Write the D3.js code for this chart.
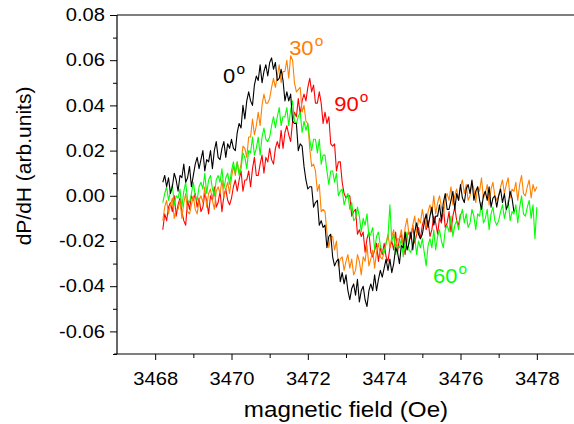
<!DOCTYPE html>
<html>
<head>
<meta charset="utf-8">
<script src="https://cdn.jsdelivr.net/npm/d3@7/dist/d3.min.js"></script>
<style>
  html, body { margin: 0; padding: 0; background: #fff; }
  svg { display: block; font-family: "Liberation Sans", Arial, sans-serif; }
</style>
</head>
<body>
<svg id="chart" width="574" height="424"></svg>
<script>
// Field sweep (Oe): every trace is sampled on the same 0.05 Oe grid
const fieldStart = 3468.2;
const fieldStep = 0.05;

// dP/dH (arb. units) for each angle
const values0 = [
  0.006, 0.009, 0.004, 0.008, 0.001, 0.004, 0.010, 0.007, 0.002, 0.009, 0.008, 0.014, 0.006, 0.008, 0.013, 0.004,
  0.009, 0.014, 0.017, 0.012, 0.016, 0.020, 0.011, 0.016, 0.015, 0.020, 0.012, 0.020, 0.024, 0.017, 0.016, 0.021, 0.024, 0.017, 0.023, 0.021,
  0.025, 0.021, 0.020, 0.028, 0.032, 0.030, 0.040, 0.034, 0.042, 0.046, 0.042, 0.040, 0.049, 0.053, 0.051, 0.058, 0.050, 0.055, 0.058, 0.053,
  0.059, 0.061, 0.056, 0.059, 0.051, 0.052, 0.056, 0.051, 0.042, 0.046, 0.042, 0.045, 0.033, 0.032, 0.032, 0.020, 0.023, 0.022, 0.013, 0.007,
  0.003, 0.004, 0.004, -0.005, -0.003, -0.002, -0.013, -0.011, -0.014, -0.013, -0.023, -0.018, -0.017, -0.027, -0.031, -0.029, -0.028, -0.038, -0.034, -0.039,
  -0.035, -0.042, -0.046, -0.041, -0.039, -0.044, -0.037, -0.047, -0.042, -0.040, -0.046, -0.049, -0.042, -0.039, -0.042, -0.035, -0.042, -0.037, -0.033, -0.036,
  -0.032, -0.028, -0.033, -0.028, -0.034, -0.030, -0.023, -0.025, -0.030, -0.022, -0.023, -0.016, -0.024, -0.021, -0.016, -0.024, -0.016, -0.012, -0.017, -0.019,
  -0.017, -0.012, -0.008, -0.014, -0.009, -0.005, -0.013, -0.009, -0.009, -0.004, -0.011, -0.003, 0.001, -0.006, -0.006, -0.002, 0.002, -0.006, 0.001, -0.002,
  0.005, -0.001, -0.003, 0.003, 0.005, 0.001, 0.007, -0.002, 0.002, 0.004, -0.002, -0.006, 0.000, 0.002, -0.002, 0.004, -0.005, -0.001, 0.000, -0.005,
  0.000, 0.003, -0.003, 0.001, -0.006, -0.004, 0.002, -0.001, -0.007
];

const values30 = [
  -0.011, -0.005, -0.002, -0.008, -0.004, -0.001, -0.010, -0.006, -0.006, -0.002, -0.010, -0.003, 0.001, -0.007, -0.008, -0.004,
  0.000, -0.006, -0.008, -0.002, 0.000, -0.003, 0.004, -0.005, 0.001, 0.003, -0.002, -0.006, 0.002, 0.004, 0.001, 0.007, -0.001, 0.003, 0.006, 0.001,
  0.008, 0.013, 0.009, 0.015, 0.010, 0.014, 0.022, 0.021, 0.017, 0.026, 0.026, 0.034, 0.027, 0.031, 0.037, 0.031, 0.040, 0.045, 0.041, 0.041,
  0.043, 0.048, 0.052, 0.048, 0.053, 0.058, 0.050, 0.055, 0.055, 0.060, 0.052, 0.062, 0.060, 0.050, 0.046, 0.047, 0.048, 0.037, 0.040, 0.033,
  0.032, 0.021, 0.013, 0.014, 0.011, 0.002, 0.005, -0.007, -0.006, -0.007, -0.016, -0.023, -0.018, -0.018, -0.024, -0.020, -0.031, -0.028, -0.027, -0.033,
  -0.029, -0.026, -0.032, -0.028, -0.035, -0.033, -0.026, -0.029, -0.035, -0.027, -0.029, -0.022, -0.031, -0.028, -0.024, -0.032, -0.025, -0.021, -0.027, -0.028,
  -0.025, -0.021, -0.017, -0.023, -0.018, -0.015, -0.023, -0.019, -0.019, -0.015, -0.022, -0.014, -0.010, -0.017, -0.018, -0.013, -0.009, -0.017, -0.010, -0.012,
  -0.006, -0.011, -0.014, -0.007, -0.004, -0.008, 0.000, -0.008, -0.003, 0.000, -0.005, -0.009, -0.001, 0.001, -0.002, 0.004, -0.004, 0.000, 0.003, -0.002,
  0.004, 0.007, 0.001, 0.005, -0.002, 0.000, 0.006, 0.003, -0.003, 0.004, 0.002, 0.008, -0.001, 0.001, 0.005, -0.004, 0.003, 0.006, 0.000, -0.002,
  0.000, 0.004, 0.007, 0.001, 0.005, 0.008, -0.001, 0.003, 0.002, 0.006, -0.002, 0.005, 0.009, 0.001, 0.000, 0.004, 0.007, -0.001, 0.005, 0.002,
  0.004
];

const values90 = [
  -0.015, -0.008, -0.011, -0.005, -0.003, -0.007, 0.000, -0.009, -0.004, -0.001, -0.007, -0.011, -0.013, -0.002, -0.006, 0.000,
  -0.002, 0.001, -0.005, -0.001, -0.007, -0.005, 0.001, -0.002, -0.008, 0.000, -0.002, 0.004, -0.005, -0.003, 0.002, -0.007, 0.000, 0.003, -0.002, -0.004,
  -0.001, 0.004, 0.007, 0.002, 0.007, 0.011, 0.002, 0.007, 0.007, 0.011, 0.004, 0.012, 0.017, 0.009, 0.009, 0.014, 0.018, 0.010, 0.017, 0.015,
  0.021, 0.016, 0.014, 0.021, 0.024, 0.021, 0.029, 0.021, 0.028, 0.031, 0.027, 0.024, 0.033, 0.037, 0.035, 0.043, 0.036, 0.042, 0.045, 0.042,
  0.048, 0.052, 0.046, 0.049, 0.041, 0.041, 0.046, 0.041, 0.032, 0.037, 0.032, 0.035, 0.023, 0.022, 0.023, 0.011, 0.015, 0.015, 0.006, 0.001,
  -0.001, 0.000, 0.000, -0.009, -0.007, -0.006, -0.017, -0.015, -0.018, -0.016, -0.025, -0.019, -0.016, -0.025, -0.027, -0.024, -0.021, -0.029, -0.023, -0.026,
  -0.021, -0.027, -0.029, -0.023, -0.020, -0.024, -0.016, -0.025, -0.019, -0.017, -0.022, -0.026, -0.018, -0.016, -0.019, -0.013, -0.021, -0.017, -0.014, -0.019,
  -0.013, -0.010, -0.015, -0.011, -0.018, -0.015, -0.009, -0.012, -0.017, -0.010, -0.012, -0.005, -0.014, -0.012, -0.007, -0.016, -0.009, -0.005, -0.011, -0.013,
  -0.008
];

const values60 = [
  -0.003, 0.001, 0.004, -0.002, 0.002, 0.005, -0.004, 0.000, -0.001, 0.003, -0.005, 0.002, 0.006, -0.002, -0.003, 0.001,
  0.006, 0.000, -0.002, 0.004, 0.006, 0.003, 0.010, 0.001, 0.007, 0.009, 0.003, 0.000, 0.007, 0.009, 0.006, 0.012, 0.003, 0.008, 0.010, 0.005,
  0.011, 0.015, 0.010, 0.015, 0.009, 0.012, 0.019, 0.017, 0.012, 0.020, 0.019, 0.026, 0.018, 0.021, 0.026, 0.018, 0.026, 0.030, 0.025, 0.024,
  0.026, 0.031, 0.035, 0.030, 0.035, 0.039, 0.031, 0.035, 0.035, 0.039, 0.031, 0.038, 0.042, 0.033, 0.032, 0.035, 0.037, 0.028, 0.033, 0.029,
  0.032, 0.025, 0.020, 0.025, 0.025, 0.019, 0.025, 0.014, 0.018, 0.018, 0.011, 0.005, 0.011, 0.011, 0.006, 0.010, 0.000, 0.002, 0.003, -0.004,
  -0.001, 0.001, -0.006, -0.003, -0.011, -0.010, -0.005, -0.009, -0.016, -0.010, -0.013, -0.008, -0.018, -0.017, -0.014, -0.024, -0.018, -0.016, -0.022, -0.025,
  -0.025, -0.021, -0.018, -0.004, -0.020, -0.017, -0.026, -0.022, -0.023, -0.019, -0.027, -0.020, -0.016, -0.024, -0.025, -0.021, -0.018, -0.026, -0.020, -0.023,
  -0.019, -0.025, -0.031, -0.022, -0.019, -0.023, -0.015, -0.024, -0.018, -0.015, -0.020, -0.023, -0.015, -0.013, -0.016, -0.009, -0.018, -0.013, -0.011, -0.015,
  -0.009, -0.006, -0.012, -0.008, -0.014, -0.012, -0.006, -0.009, -0.015, -0.008, -0.009, -0.003, -0.012, -0.010, -0.006, -0.015, -0.008, -0.005, -0.011, -0.013,
  -0.011, -0.007, -0.004, -0.010, -0.006, -0.002, -0.011, -0.007, -0.008, -0.004, -0.012, -0.005, 0.000, -0.008, -0.009, -0.005, -0.002, -0.010, -0.004, -0.019,
  -0.005
];

// Traces in drawing order (last on top)
const series = [
  { name: "90", values: values90, color: "#ff0000" },
  { name: "30", values: values30, color: "#ff8000" },
  { name: "60", values: values60, color: "#00ff00" },
  { name: "0",  values: values0,  color: "#000000" }
];

// Axis ticks
const xMajorTicks = [3468, 3470, 3472, 3474, 3476, 3478];
const xMinorTicks = [3469, 3471, 3473, 3475, 3477];
const yMajorTicks = [-0.06, -0.04, -0.02, 0.00, 0.02, 0.04, 0.06, 0.08];
const yMinorTicks = [-0.07, -0.05, -0.03, -0.01, 0.01, 0.03, 0.05, 0.07];

// Angle annotations (anchored at the left end of the baseline)
const angleLabels = [
  { text: "0",  field: 3469.78, value: 0.0499, color: "#000000" },
  { text: "30", field: 3471.51, value: 0.0623, color: "#ff8000" },
  { text: "90", field: 3472.69, value: 0.0375, color: "#ff0000" },
  { text: "60", field: 3475.28, value: -0.0386, color: "#00ff00" }
];

const svg = d3.select("#chart");
const plot = { left: 117, right: 575, top: 15, bottom: 354 };
const stretch = "scale(1.12,1)";

const x = d3.scaleLinear().domain([3467, 3479]).range([plot.left, plot.right]);
const y = d3.scaleLinear().domain([-0.07, 0.08]).range([plot.bottom, plot.top]);

// Traces
const line = d3.line()
  .x(d => x(d[0]))
  .y(d => y(d[1]));

series.forEach(s => {
  const pts = s.values.map((v, i) => [fieldStart + i * fieldStep, v]);
  svg.append("path")
    .datum(pts)
    .attr("fill", "none")
    .attr("stroke", s.color)
    .attr("stroke-width", 1.1)
    .attr("stroke-linejoin", "round")
    .attr("d", line);
});

// Y axis
const yAxis = svg.append("g")
  .attr("transform", `translate(${plot.left},0)`)
  .call(d3.axisLeft(y).tickValues(yMajorTicks).tickSize(7).tickPadding(5)
    .tickFormat(d => d.toFixed(2)));
yAxis.select(".domain").remove();
yAxis.selectAll("line").attr("stroke", "#000").attr("stroke-width", 1);
yAxis.selectAll("text")
  .attr("x", 0)
  .attr("transform", `translate(-12,0) ${stretch}`)
  .attr("font-size", 18)
  .attr("fill", "#000")
  .attr("font-family", "Liberation Sans, Arial, sans-serif");

const yMinor = svg.append("g")
  .attr("transform", `translate(${plot.left},0)`)
  .call(d3.axisLeft(y).tickValues(yMinorTicks).tickSize(4).tickFormat(""));
yMinor.select(".domain").remove();
yMinor.selectAll("line").attr("stroke", "#000");

// X axis
const xAxis = svg.append("g")
  .attr("transform", `translate(0,${plot.bottom})`)
  .call(d3.axisBottom(x).tickValues(xMajorTicks).tickSize(6).tickPadding(12)
    .tickFormat(d => String(d)));
xAxis.select(".domain").remove();
xAxis.selectAll("line").attr("stroke", "#000");
xAxis.selectAll("text")
  .attr("transform", stretch)
  .attr("font-size", 18)
  .attr("fill", "#000")
  .attr("font-family", "Liberation Sans, Arial, sans-serif");

const xMinor = svg.append("g")
  .attr("transform", `translate(0,${plot.bottom})`)
  .call(d3.axisBottom(x).tickValues(xMinorTicks).tickSize(4).tickFormat(""));
xMinor.select(".domain").remove();
xMinor.selectAll("line").attr("stroke", "#000");

// Frame lines: left, bottom, top
const frame = svg.append("g").attr("stroke", "#000").attr("stroke-width", 1.2);
frame.append("line").attr("x1", plot.left).attr("x2", plot.left).attr("y1", plot.top).attr("y2", plot.bottom);
frame.append("line").attr("x1", plot.left - 3).attr("x2", plot.right).attr("y1", plot.bottom).attr("y2", plot.bottom);
frame.append("line").attr("x1", plot.left).attr("x2", plot.right).attr("y1", plot.top).attr("y2", plot.top);

// Axis titles
svg.append("text")
  .attr("transform", `translate(${(plot.left + plot.right) / 2},417) scale(1.1,1)`)
  .attr("text-anchor", "middle")
  .attr("font-size", 22)
  .attr("fill", "#000")
  .text("magnetic field (Oe)");

svg.append("text")
  .attr("transform", "translate(31,166) rotate(-90)")
  .attr("text-anchor", "middle")
  .attr("font-size", 21)
  .attr("fill", "#000")
  .text("dP/dH (arb.units)");

// Angle annotations with a raised "o" degree mark
angleLabels.forEach(a => {
  const t = svg.append("text")
    .attr("transform", `translate(${x(a.field)},${y(a.value)}) scale(1.1,1)`)
    .attr("font-size", 20)
    .attr("fill", a.color);
  t.append("tspan").text(a.text);
  t.append("tspan").attr("font-size", 14).attr("dx", 1).attr("dy", -9).text("o");
});
</script>
</body>
</html>
